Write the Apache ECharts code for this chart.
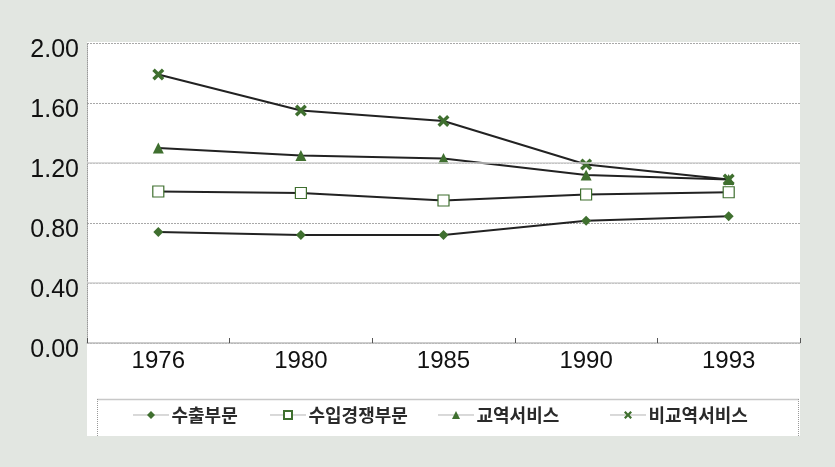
<!DOCTYPE html>
<html>
<head>
<meta charset="utf-8">
<script src="https://cdn.jsdelivr.net/npm/echarts@6/dist/echarts.min.js"></script>
<style>
html,body{margin:0;padding:0;background:#e2e6e1;}
#c{width:835px;height:467px;}
</style>
</head>
<body>
<div id="c"></div>
<script>
var categories = ['1976', '1980', '1985', '1990', '1993'];
var seriesNames = ['수출부문', '수입경쟁부문', '교역서비스', '비교역서비스'];
var exportVals = [0.74, 0.72, 0.72, 0.815, 0.845];
var importVals = [1.01, 1.00, 0.95, 0.99, 1.005];
var tradeServVals = [1.30, 1.25, 1.23, 1.12, 1.09];
var nonTradeServVals = [1.79, 1.55, 1.48, 1.19, 1.09];
var yTicks = [0, 0.4, 0.8, 1.2, 1.6, 2.0];
var solidGrid = [0.4, 1.2];

var green = '#3f6f2f';
var lineColor = '#222222';
var xPath = 'path://M0,2 L2,0 L5,3 L8,0 L10,2 L7,5 L10,8 L8,10 L5,7 L2,10 L0,8 L3,5 Z';

var chart = echarts.init(document.getElementById('c'));

function mkSeries(name, data, symbol, size, itemStyle) {
  return {
    name: name, type: 'line', data: data, symbol: symbol, symbolSize: size,
    showAllSymbol: true, z: 3,
    lineStyle: { color: lineColor, width: 2 },
    itemStyle: itemStyle,
    emphasis: { disabled: true }
  };
}

function legendAt(name, left) {
  return {
    data: [name], left: left, top: 401, itemWidth: 35, itemHeight: 10, itemGap: 0,
    textStyle: { fontSize: 18, fontWeight: 'bold', color: '#2a2a2a', fontFamily: 'Noto Sans CJK KR', padding: [0, 0, 0, -2] },
    lineStyle: { color: '#666', width: 1, type: 'dotted' },
    selectedMode: false
  };
}

chart.setOption({
  backgroundColor: '#e2e6e1',
  animation: false,
  graphic: [
    { type: 'rect', shape: { x: 87, y: 42, width: 713, height: 394 }, style: { fill: '#ffffff' }, z: -10, silent: true },
    { type: 'line', shape: { x1: 97, y1: 399.5, x2: 799, y2: 399.5 }, style: { stroke: '#c8c8c8', lineWidth: 1.5 }, z: 1, silent: true },
    { type: 'line', shape: { x1: 97.5, y1: 399, x2: 97.5, y2: 436 }, style: { stroke: '#999', lineWidth: 1, lineDash: [1, 1] }, z: 1, silent: true },
    { type: 'line', shape: { x1: 798.5, y1: 399, x2: 798.5, y2: 436 }, style: { stroke: '#999', lineWidth: 1, lineDash: [1, 1] }, z: 1, silent: true }
  ],
  grid: { left: 87, right: 35, top: 43, bottom: 124, containLabel: false },
  legend: [
    legendAt(seriesNames[0], 128),
    legendAt(seriesNames[1], 265),
    legendAt(seriesNames[2], 433),
    legendAt(seriesNames[3], 605)
  ],
  xAxis: {
    type: 'category', data: categories, boundaryGap: true,
    axisLine: { lineStyle: { color: '#bdbdbd', width: 1.5 } },
    axisTick: { show: true, inside: true, length: 5, lineStyle: { color: '#555', width: 1 } },
    axisLabel: { fontSize: 24, color: '#111', margin: 6, fontFamily: 'Liberation Sans' },
    splitLine: { show: false }
  },
  yAxis: {
    type: 'value', min: 0, max: 2, interval: 0.4,
    axisLine: { show: true, lineStyle: { color: '#999', width: 1, type: [1, 1] } },
    axisTick: { show: false },
    axisLabel: { fontSize: 25, color: '#111', margin: 8, fontFamily: 'Liberation Sans',
      lineHeight: 14, verticalAlign: 'middle',
      formatter: function (v) { return '\n' + v.toFixed(2); } },
    splitLine: { show: true, lineStyle: { color: '#a8a8a8', width: 1, type: [2, 1] } }
  },
  series: [
    {
      name: '_grid', type: 'line', data: [], z: 1, silent: true,
      markLine: {
        silent: true, symbol: 'none', label: { show: false },
        lineStyle: { color: '#cfcfcf', width: 1.5, type: 'solid' },
        data: solidGrid.map(function (v) { return { yAxis: v }; })
      }
    },
    mkSeries(seriesNames[0], exportVals, 'diamond', 10, { color: green }),
    mkSeries(seriesNames[1], importVals, 'rect', 11, { color: '#ffffff', borderColor: green, borderWidth: 1.2 }),
    mkSeries(seriesNames[2], tradeServVals, 'triangle', 11, { color: green }),
    mkSeries(seriesNames[3], nonTradeServVals, xPath, 12, { color: green })
  ]
});
</script>
</body>
</html>
